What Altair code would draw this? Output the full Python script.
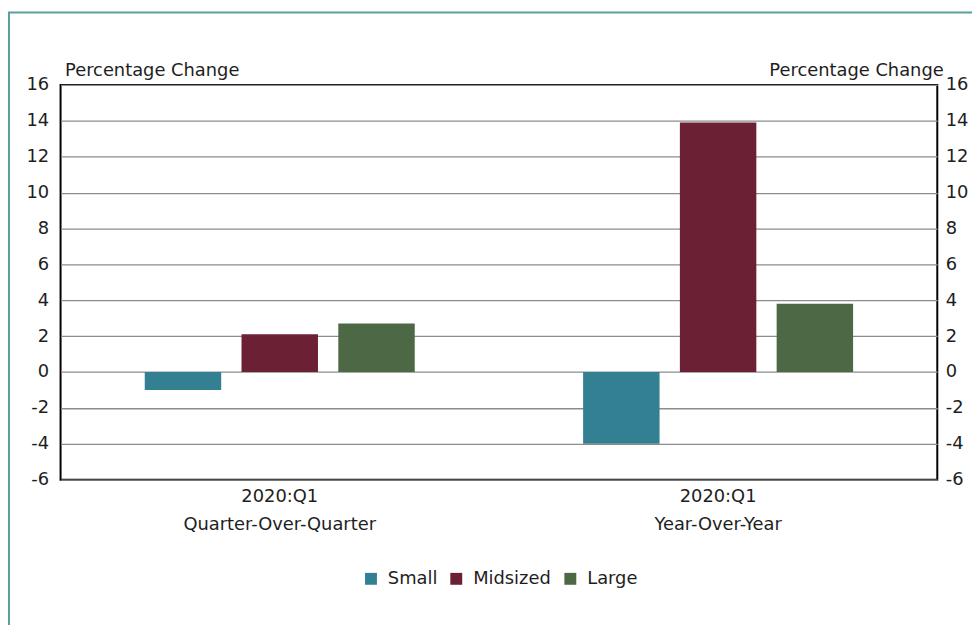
import altair as alt
import pandas as pd

groups = ["2020:Q1|Quarter-Over-Quarter", "2020:Q1|Year-Over-Year"]
sizes = ["Small", "Midsized", "Large"]
qoq = [-1.0, 2.1, 2.7]
yoy = [-4.0, 13.9, 3.8]
colors = ["#338092", "#6b2033", "#4d6845"]
y_ticks = list(range(-6, 17, 2))
y_title = "Percentage Change"

rows = []
for g, vals in zip(groups, [qoq, yoy]):
    for s, v in zip(sizes, vals):
        rows.append({"group": g, "size": s, "value": v})
df = pd.DataFrame(rows)
ticks_df = pd.DataFrame({"v": y_ticks})

FONT = "DejaVu Sans"
FS = 18
TXT = "#1e1e1e"
yscale = alt.Scale(domain=[-6, 16], nice=False, zero=False)

bars = alt.Chart(df).mark_bar().encode(
    x=alt.X("group:N", sort=groups,
            scale=alt.Scale(paddingInner=0, paddingOuter=0),
            axis=alt.Axis(title=None, labelExpr="split(datum.label, '|')",
                          labelAngle=0, ticks=False, domain=False, labelPadding=8,
                          labelLineHeight=28, labelFontSize=FS, labelColor=TXT,
                          labelFont=FONT, labelBaseline="top", labelLimit=0)),
    xOffset=alt.XOffset("size:N", sort=sizes,
                        scale=alt.Scale(paddingInner=0.21, paddingOuter=0.87)),
    y=alt.Y("value:Q", scale=yscale,
            axis=alt.Axis(values=y_ticks, labelExpr="datum.value + ''",
                          title=y_title, titleAngle=0,
                          titleAlign="left", titleBaseline="alphabetic",
                          titleX=4, titleY=-9, titleFontSize=FS,
                          titleFontWeight="normal", titleFont=FONT, titleColor=TXT,
                          grid=True, ticks=False, domain=False, labelPadding=12,
                          labelFontSize=FS, labelFont=FONT, labelColor=TXT)),
    color=alt.Color("size:N", sort=sizes,
                    scale=alt.Scale(domain=sizes, range=colors),
                    legend=alt.Legend(orient="none", legendX=304, legendY=489,
                                      direction="horizontal", title=None,
                                      symbolType="square", symbolSize=144,
                                      symbolStrokeWidth=0, labelFontSize=FS,
                                      labelFont=FONT, labelColor=TXT,
                                      labelOffset=8, columnPadding=10)),
)

right_axis = alt.Chart(ticks_df).mark_rule(opacity=0).encode(
    y=alt.Y("v:Q", scale=yscale,
            axis=alt.Axis(orient="right", values=y_ticks,
                          labelExpr="datum.value + ''", title=y_title,
                          titleAngle=0, titleAlign="right",
                          titleBaseline="alphabetic", titleX=6, titleY=-9,
                          titleFontSize=FS, titleFontWeight="normal",
                          titleFont=FONT, titleColor=TXT, grid=False,
                          ticks=False, domain=False, labelPadding=8,
                          labelFontSize=FS, labelFont=FONT, labelColor=TXT)),
)

frame = alt.Chart(pd.DataFrame({"a": [0]})).mark_rect(
    fill="transparent", stroke="#5b9ea0", strokeWidth=2
).encode(
    x=alt.value(-52), x2=alt.value(960), y=alt.value(-73), y2=alt.value(640)
)

chart = alt.layer(bars, right_axis, frame).resolve_scale(y="independent").properties(
    width=884, height=398,
    autosize=alt.AutoSizeParams(type="none"),
    padding={"left": 53, "top": 75, "right": 35, "bottom": 144},
).configure_view(stroke="black", strokeWidth=2).configure_axis(
    gridColor="#8c8c8c", gridWidth=1.3
)

chart.save("out.html", embed_options={"renderer": "svg", "actions": False})
